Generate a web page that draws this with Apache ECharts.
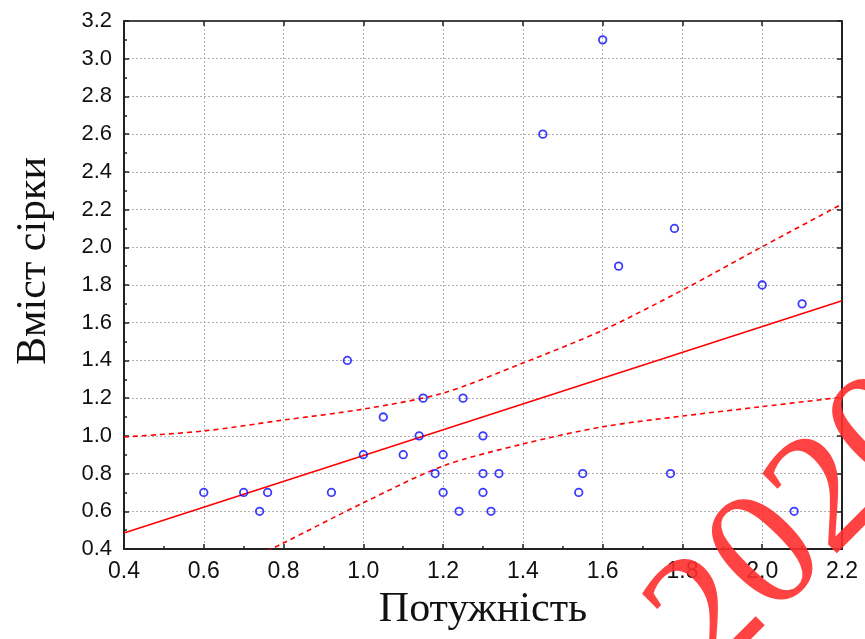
<!DOCTYPE html>
<html>
<head>
<meta charset="utf-8">
<script src="https://cdn.jsdelivr.net/npm/echarts@6/dist/echarts.min.js"></script>
<style>
html,body{margin:0;padding:0;background:#fff;}
#chart{width:865px;height:639px;}
</style>
</head>
<body>
<div id="chart"></div>
<script>
// Observed points: Потужність (x) vs Вміст сірки (y)
const pointX = [0.60, 0.70, 0.74, 0.76, 0.92, 0.96, 1.00, 1.05, 1.10, 1.14, 1.15, 1.18, 1.20, 1.20, 1.24, 1.25, 1.30, 1.30, 1.30, 1.32, 1.34, 1.45, 1.54, 1.55, 1.60, 1.64, 1.77, 1.78, 2.00, 2.08, 2.10];
const pointY = [0.70, 0.70, 0.60, 0.70, 0.70, 1.40, 0.90, 1.10, 0.90, 1.00, 1.20, 0.80, 0.90, 0.70, 0.60, 1.20, 1.00, 0.80, 0.70, 0.60, 0.80, 2.60, 0.70, 0.80, 3.10, 1.90, 0.80, 2.10, 1.80, 0.60, 1.70];

// Regression line
const fitX = [0.4, 2.2];
const fitY = [0.485, 1.717];

// Confidence band
const bandX  = [0.4, 0.6, 0.8, 1.0, 1.2, 1.4, 1.6, 1.8, 2.0, 2.2];
const upperY = [0.994, 1.026, 1.084, 1.142, 1.227, 1.386, 1.560, 1.773, 2.003, 2.229];
const lowerY = [-0.02, 0.22, 0.432, 0.645, 0.840, 0.957, 1.048, 1.105, 1.155, 1.205];

// Axis settings
const xMin = 0.4, xMax = 2.2, xStep = 0.2;
const yMin = 0.4, yMax = 3.2, yStep = 0.2;
const xTitle = 'Потужність';
const yTitle = 'Вміст сірки';
const watermark = '2020';

const zip = (a, b) => a.map((v, i) => [v, b[i]]);
const fmt = v => v.toFixed(1);

const chart = echarts.init(document.getElementById('chart'), null, {renderer: 'canvas'});
const axisLineStyle = {color: '#222', width: 2};
const gridLine = {show: true, lineStyle: {color: '#b0b0b0', width: 1, type: [2, 2]}};

chart.setOption({
  animation: false,
  backgroundColor: '#fff',
  grid: {left: 124, right: 23, top: 21, bottom: 90, containLabel: false},
  xAxis: [{
    type: 'value', min: xMin, max: xMax, interval: xStep, position: 'bottom',
    axisLine: {show: true, onZero: false, lineStyle: axisLineStyle},
    axisTick: {show: true, inside: true, length: 5, lineStyle: {color: '#222', width: 1.5}},
    minorTick: {show: true, splitNumber: 2, length: 3, lineStyle: {color: '#222', width: 1.5}},
    axisLabel: {margin: 11, formatter: fmt, fontFamily: 'Liberation Sans', fontSize: 23, color: '#111'},
    splitLine: gridLine,
    name: xTitle, nameLocation: 'middle', nameGap: 40,
    nameTextStyle: {fontFamily: 'Liberation Serif', fontSize: 42, color: '#111'}
  }, {
    type: 'value', min: xMin, max: xMax, interval: xStep, position: 'top',
    axisLine: {show: true, onZero: false, lineStyle: {color: '#444', width: 2}},
    axisTick: {show: true, inside: true, length: 5, lineStyle: {color: '#222', width: 1.5}},
    axisLabel: {show: false}, splitLine: {show: false}
  }],
  yAxis: [{
    type: 'value', min: yMin, max: yMax, interval: yStep, position: 'left',
    axisLine: {show: true, onZero: false, lineStyle: axisLineStyle},
    axisTick: {show: true, inside: true, length: 5, lineStyle: {color: '#222', width: 1.5}},
    minorTick: {show: true, splitNumber: 2, length: 3, lineStyle: {color: '#222', width: 1.5}},
    axisLabel: {margin: 12, formatter: fmt, fontFamily: 'Liberation Sans', fontSize: 22, color: '#111'},
    splitLine: gridLine,
    name: yTitle, nameLocation: 'middle', nameGap: 69, nameRotate: 90,
    nameTextStyle: {fontFamily: 'Liberation Serif', fontSize: 42, color: '#111', padding: [0, 0, 0, 48]}
  }, {
    type: 'value', min: yMin, max: yMax, interval: yStep, position: 'right',
    axisLine: {show: true, onZero: false, lineStyle: axisLineStyle},
    axisTick: {show: true, inside: true, length: 5, lineStyle: {color: '#222', width: 1.5}},
    axisLabel: {show: false}, splitLine: {show: false}
  }],
  series: [{
    type: 'line', data: zip(bandX, upperY), smooth: 0.3, symbol: 'none', clip: true,
    lineStyle: {color: '#ff0000', width: 1.6, type: [5, 4]}, z: 3
  }, {
    type: 'line', data: zip(bandX, lowerY), smooth: 0.3, symbol: 'none', clip: true,
    lineStyle: {color: '#ff0000', width: 1.6, type: [5, 4]}, z: 3
  }, {
    type: 'line', data: zip(fitX, fitY), symbol: 'none', clip: true,
    lineStyle: {color: '#ff0000', width: 1.6}, z: 3
  }, {
    type: 'scatter', data: zip(pointX, pointY), symbol: 'circle', symbolSize: 7.5,
    itemStyle: {color: 'rgba(0,0,0,0)', borderColor: '#0a0aff', borderWidth: 1.8}, z: 4
  }],
  graphic: [{
    type: 'text', x: 800, y: 527, rotation: 45 * Math.PI / 180, z: 100,
    style: {
      text: watermark, font: '170px "Liberation Serif"',
      textAlign: 'center', textVerticalAlign: 'middle',
      fill: 'rgba(255,45,45,0.9)', shadowBlur: 3, shadowColor: 'rgba(255,0,0,0.6)'
    }
  }]
});
</script>
</body>
</html>
